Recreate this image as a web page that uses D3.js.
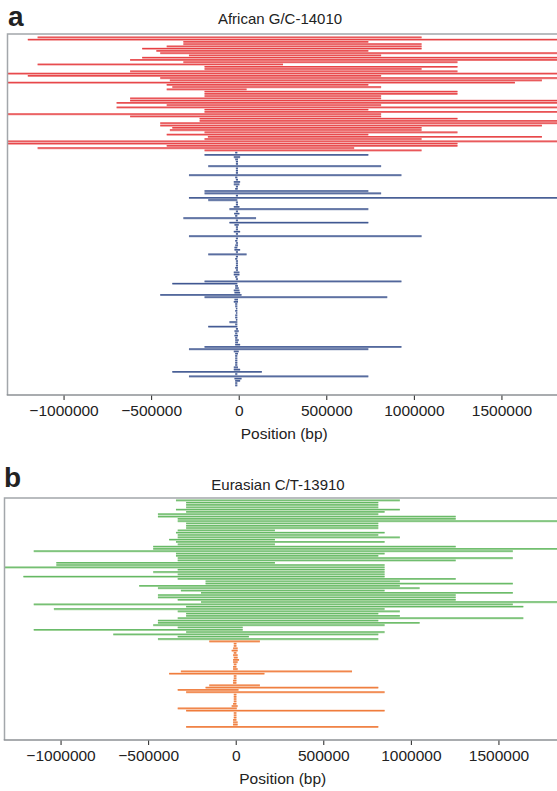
<!DOCTYPE html>
<meta charset="utf-8">
<style>
    body { margin: 0; background: #fff; }
    svg { display: block; font-family: "Liberation Sans", Arial, sans-serif; }
</style>
<svg width="557" height="791"></svg>
<script src="https://cdn.jsdelivr.net/npm/d3@7"></script>
<script>

    // tick labels on the position axis (bp)
    var tickValues = [-1000000, -500000, 0, 500000, 1000000, 1500000];

    // haplotype extents, [start, end] in kb, top row first
    var africanDerived = [
        [-1148, 1044], [-1204, 1900], [-316, 740], [-316, 1044], [-411, 1044], [-551, 1044],
        [-470, 740], [-448, 1900], [-284, 813], [-551, 1900], [-620, 1900], [-316, 1249],
        [-1148, 253], [-195, 1249], [-195, 1044], [-620, 1249], [-1400, 1900], [-1204, 813],
        [-448, 1900], [-393, 1731], [-1400, 1577], [-411, 740], [-379, 813], [-411, 45],
        [-195, 1249], [-195, 1249], [-195, 813], [-620, 813], [-620, 1900], [-697, 1900],
        [-411, 813], [-697, 1900], [-195, 740], [-195, 1900], [-1400, 813], [-620, 813],
        [-223, 1249], [-223, 1900], [-448, 1900], [-448, 1731], [-379, 1044], [-393, 1044],
        [-195, 1249], [-411, 740], [-176, 1731], [-195, 1044], [-1400, 1900], [-1400, 1249],
        [-411, 1249], [-1148, 659], [-195, 1044]
    ];
    var africanAncestral = [
        [-20, -8], [-195, 740], [-28, 8], [-20, -4], [-16, -4], [-16, -4], [-174, 813], [-16, -4],
        [-16, -4], [-16, -4], [-284, 929], [-20, -8], [-16, -4], [-28, 8], [-28, 4], [-16, -4],
        [-20, -6], [-195, 740], [-195, 813], [-16, -4], [-284, 1900], [-174, -8], [-16, -4], [-16, -4],
        [-28, 4], [-53, 740], [-16, -4], [-26, 4], [-20, -8], [-316, 99], [-16, -4], [-53, 740],
        [-24, 0], [-16, -4], [-16, -4], [-28, 8], [-16, -4], [-284, 1044], [-16, -4], [-20, -8],
        [-16, -4], [-20, -4], [-24, -8], [-24, 8], [-16, -4], [-174, 45], [-16, -4], [-20, -8],
        [-16, -4], [-16, -4], [-16, -4], [-20, -4], [-16, -4], [-28, 4], [-28, 4], [-20, -8],
        [-16, -4], [-195, 929], [-379, -8], [-20, -4], [-20, 0], [-28, 4], [-24, 8], [-448, 16],
        [-195, 848], [-24, -4], [-28, -4], [-20, -8], [-20, -8], [-16, -8], [-20, -8], [-16, -8],
        [-20, -8], [-20, -8], [-16, -8], [-53, -8], [-20, -8], [-174, -8], [-16, -4], [-24, 0],
        [-20, -8], [-24, -4], [-20, -8], [-20, 0], [-20, -4], [-20, 8], [-195, 929], [-284, 740],
        [-28, 0], [-20, -4], [-20, -8], [-20, -8], [-20, -8], [-20, -8], [-20, -8], [-28, -4],
        [-28, 8], [-379, 132], [-20, -8], [-284, 740], [-24, 16], [-20, 8], [-20, -8], [-20, -8]
    ];
    var eurasianDerived = [
        [-341, 937], [-283, 814], [-283, 814], [-283, 814], [-341, 937], [-283, 850], [-444, 814],
        [-444, 1256], [-331, 1256], [-331, 1900], [-283, 814], [-283, 814], [-283, 814], [-331, 224],
        [-341, 850], [-331, 814], [-331, 937], [-380, 224], [-341, 850], [-331, 224], [-471, 1256],
        [-471, 1900], [-1153, 1582], [-341, 850], [-341, 814], [-331, 1582], [-331, 1256], [-1024, 224],
        [-1024, 850], [-1400, 850], [-331, 850], [-471, 850], [-331, 850], [-1212, 850], [-331, 1256],
        [-172, 937], [-172, 1582], [-551, 937], [-444, 1050], [-313, 850], [-198, 1582], [-444, 1256],
        [-444, 1256], [-331, 1256], [-198, 1900], [-1153, 1582], [-283, 1642], [-1038, 850], [-331, 937],
        [-283, 814], [-283, 937], [-331, 1642], [-444, 814], [-444, 1050], [-471, 850], [-331, 40],
        [-1153, 40], [-283, 850], [-699, 814], [-331, 75], [-444, 814]
    ];
    var eurasianAncestral = [
        [-151, 138], [-11, 4], [-11, 4], [-15, 11], [-23, 11], [-11, 4], [-15, 11], [-11, 11],
        [-15, 19], [-15, 11], [-11, 4], [-15, 4], [-15, 11], [-313, 664], [-380, 164], [-11, 4],
        [-11, 4], [-15, 4], [-15, 4], [-151, 138], [-172, 814], [-331, 16], [-283, 850], [-11, 4],
        [-11, 4], [-11, 4], [-11, 4], [-15, 4], [-23, 11], [-331, 6], [-283, 850], [-11, 4],
        [-11, 4], [-11, 4], [-15, 4], [-15, 11], [-15, 11], [-283, 814]
    ];

    var svg = d3.select("svg");

    var panels = [
        {
            letter: "a", title: "African G/C-14010", left: 7.5, top: 34, bottom: 395,
            firstRow: 37.5, lastRow: 385.5, letterY: 26, titleY: 24, titleX: 280,
            groups: [
                { rows: africanDerived, dark: "#e3262c", light: "#f08d8d" },
                { rows: africanAncestral, dark: "#2a4486", light: "#8594b8" }
            ]
        },
        {
            letter: "b", title: "Eurasian C/T-13910", left: 4.5, top: 498, bottom: 740,
            firstRow: 500.5, lastRow: 727, letterY: 487, titleY: 490, titleX: 278,
            groups: [
                { rows: eurasianDerived, dark: "#4cae4f", light: "#a7d6a0" },
                { rows: eurasianAncestral, dark: "#ec6d27", light: "#f5a77a" }
            ]
        }
    ];

    panels.forEach(function (p, pi) {
        var x = d3.scaleLinear()
            .domain([-1320000, 1820000])
            .range([p.left, p.left + 550]);

        var rows = [];
        p.groups.forEach(function (g) {
            g.rows.forEach(function (r) { rows.push({ s: r[0], e: r[1], g: g }); });
        });

        var y = d3.scalePoint()
            .domain(d3.range(rows.length))
            .range([p.firstRow, p.lastRow]);

        svg.append("clipPath").attr("id", "clip" + pi)
            .append("rect")
            .attr("x", p.left).attr("y", p.top)
            .attr("width", 557 - p.left).attr("height", p.bottom - p.top);

        var plot = svg.append("g").attr("clip-path", "url(#clip" + pi + ")");

        // light band under each haplotype
        plot.append("g").selectAll("line")
            .data(rows)
            .enter().append("line")
            .attr("x1", function (d) { return x(d.s * 1000); })
            .attr("x2", function (d) { return x(d.e * 1000); })
            .attr("y1", function (d, i) { return y(i); })
            .attr("y2", function (d, i) { return y(i); })
            .attr("stroke", function (d) { return d.g.light; })
            .attr("stroke-width", 2);

        // darker core line
        plot.append("g").selectAll("line")
            .data(rows)
            .enter().append("line")
            .attr("x1", function (d) { return x(d.s * 1000); })
            .attr("x2", function (d) { return x(d.e * 1000); })
            .attr("y1", function (d, i) { return y(i) - 0.3; })
            .attr("y2", function (d, i) { return y(i) - 0.3; })
            .attr("stroke", function (d) { return d.g.dark; })
            .attr("stroke-opacity", 0.85)
            .attr("stroke-width", 0.9);

        // frame: top and left
        svg.append("path")
            .attr("d", "M557," + p.top + "H" + p.left + "V" + p.bottom)
            .attr("fill", "none")
            .attr("stroke", "#a3a7ab")
            .attr("stroke-width", 1.5);

        var axis = svg.append("g")
            .attr("transform", "translate(0," + p.bottom + ")")
            .call(d3.axisBottom(x)
                .tickValues(tickValues)
                .tickFormat(d3.format("d"))
                .tickSize(5)
                .tickSizeOuter(0)
                .tickPadding(5));
        axis.select(".domain").remove();
        axis.append("line")
            .attr("x1", p.left - 0.75).attr("x2", 557)
            .attr("stroke", "#8c9095").attr("stroke-width", 1.5);
        axis.selectAll(".tick line").attr("stroke", "#222").attr("stroke-width", 1);
        axis.selectAll(".tick text")
            .attr("fill", "#222")
            .attr("font-size", 15.5)
            .attr("font-family", "Liberation Sans, Arial, sans-serif");

        svg.append("text")
            .attr("x", (p.left + 557) / 2 + 2)
            .attr("y", p.bottom + 44)
            .attr("text-anchor", "middle")
            .attr("font-size", 15.5)
            .attr("fill", "#222")
            .text("Position (bp)");

        svg.append("text")
            .attr("x", p.titleX)
            .attr("y", p.titleY)
            .attr("text-anchor", "middle")
            .attr("font-size", 15)
            .attr("fill", "#222")
            .text(p.title);

        svg.append("text")
            .attr("x", pi === 0 ? 8 : 4)
            .attr("y", p.letterY)
            .attr("font-size", 28)
            .attr("font-weight", "bold")
            .attr("fill", "#222")
            .text(p.letter);
    });
</script>
